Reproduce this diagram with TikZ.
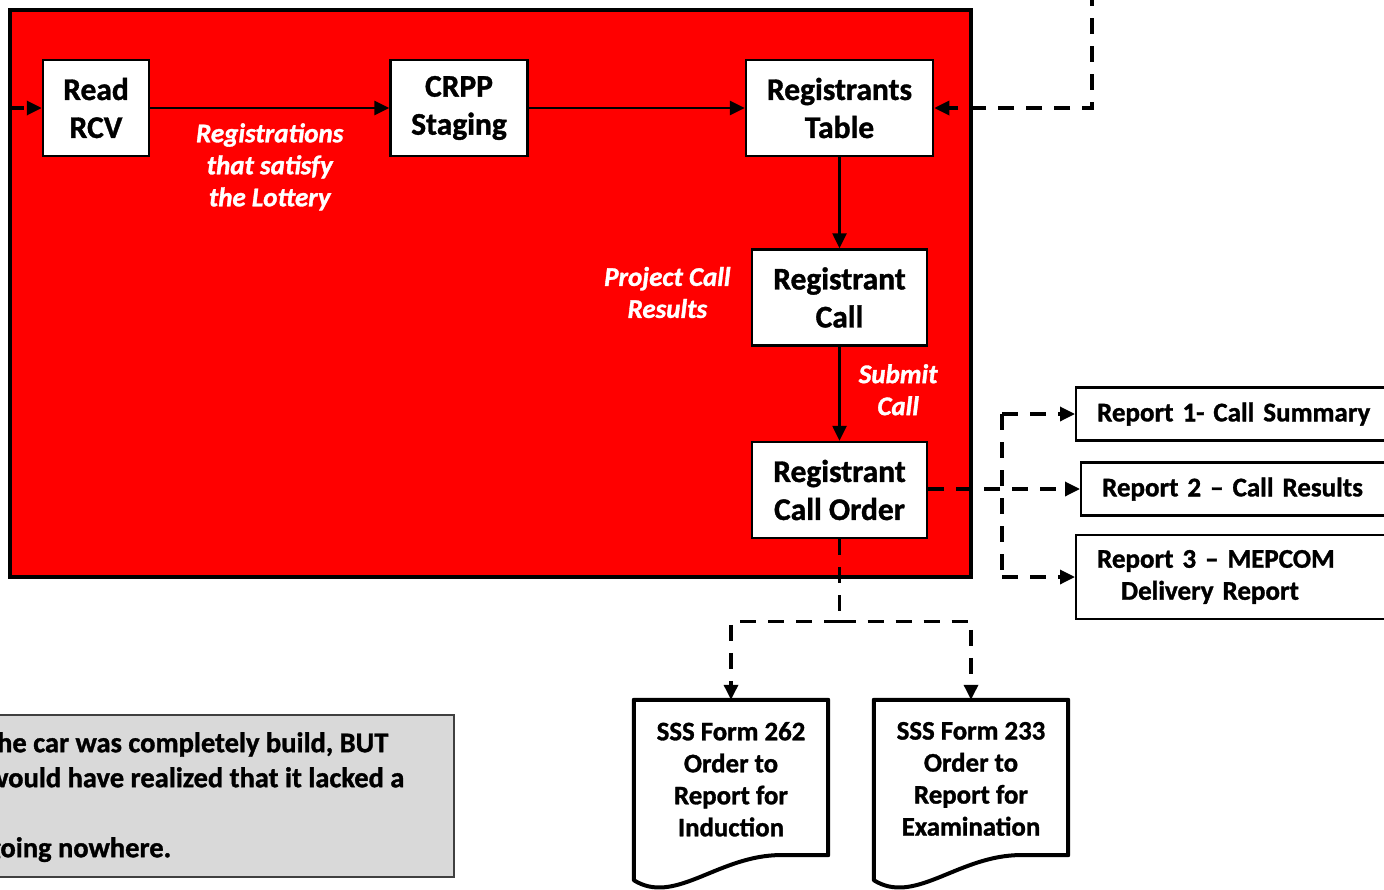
\documentclass[tikz,border=0pt]{standalone}
\usepackage{fontspec}
\setmainfont{Carlito}[BoldFeatures={FakeBold=1.2}, BoldItalicFeatures={FakeBold=1.2}]
\usetikzlibrary{positioning, arrows.meta, calc}

% wavy-bottom outline round a document node
\newcommand{\drawdoc}[1]{%
  \draw[line width=4pt, line join=round, fill=white]
    (#1.north west) -- (#1.north east) -- ($(#1.south east)+(0,-25)$) -- ++(-53,0)
    .. controls +(-60,3) and +(40,25) .. (#1.south west) -- cycle;}

\begin{document}
\begin{tikzpicture}[x=1pt, y=-1pt,
    proc/.style={draw, line width=2.5pt, fill=white, align=center, minimum height=96pt,
      inner sep=0pt, font=\fontsize{31.5}{38}\selectfont\bfseries},
    flow/.style={line width=2.6pt, -{Triangle[length=15pt,width=14pt]}},
    dashline/.style={line width=3.3pt, dash pattern=on 16pt off 12pt},
    dashflow/.style={dashline, -{Triangle[length=15pt,width=14pt]}},
    note/.style={text=white, align=center, inner sep=0pt,
      font=\fontsize{27}{32}\selectfont\bfseries\itshape},
    report/.style={draw, line width=2.2pt, fill=white, anchor=west, text width=290pt,
      inner xsep=21pt, inner ysep=10pt, minimum height=53pt, align=left,
      font=\fontsize{27}{32}\selectfont\bfseries},
    docbox/.style={minimum width=194pt, minimum height=180pt, inner sep=0pt},
    doctext/.style={align=center, inner sep=0pt, font=\fontsize{26.8}{32}\selectfont\bfseries}]

  \useasboundingbox (0,0) rectangle (1384,889);
  \clip (0,0) rectangle (1384,889);

  % lottery region
  \draw[line width=3.5pt, fill=red] (10,10) rectangle (971,577);

  \node(read_rcv)[proc, minimum width=106pt] at (96,108) {Read\\RCV};
  \node(crpp)[proc, minimum width=137pt, right=239pt of read_rcv] {CRPP\\Staging};
  \node(reg_table)[proc, minimum width=187pt, right=216pt of crpp] {Registrants\\Table};
  \node(reg_call)[proc, minimum width=175pt, below=91pt of reg_table] {Registrant\\Call};
  \node(call_order)[proc, minimum width=175pt, below=94pt of reg_call] {Registrant\\Call Order};
  \node(proj_label)[note, left=20pt of reg_call, yshift=5pt] {Project Call\\Results};

  \path[every edge/.append style={flow}]
    (read_rcv) edge node[note, below=14pt] {Registrations\\that satisfy\\the Lottery} (crpp)
    (crpp) edge (reg_table)
    (reg_table) edge (reg_call)
    (reg_call) edge node[note, right=18pt, yshift=4pt] {Submit\\Call} (call_order)
    ;

  % outside feeds
  \coordinate(feed_left) at (-20,108);
  \coordinate(feed_top) at (1092,-10);
  \draw[dashflow] (feed_left) -- (read_rcv.west);
  \draw[dashflow] (feed_top) |- (reg_table.east);

  % reports
  \node(report1)[report] at (1075,414) {Report 1- Call Summary};
  \node(report2)[report] at (1080,489) {Report 2 -- Call Results};
  \node(report3)[report, minimum height=84pt] at (1075,577) {Report 3 -- MEPCOM\\\hspace*{24pt}Delivery Report};
  \coordinate(split) at (1002,489);
  \draw[dashflow] (call_order.east |- split) -- (report2.west);
  \draw[dashline] (report1.west -| split) -- (report3.west -| split);
  \draw[dashflow] (report1.west -| split) -- (report1.west);
  \draw[dashflow] (report3.west -| split) -- (report3.west);

  % forms
  \node(form262)[docbox] at (731,790) {};
  \node(form233)[docbox] at (971,790) {};
  \drawdoc{form262}
  \drawdoc{form233}
  \node[doctext, below=22pt of form262.north] {SSS Form 262\\Order to\\Report for\\Induction};
  \node[doctext, below=22pt of form233.north] {SSS Form 233\\Order to\\Report for\\Examination};
  \coordinate(fork) at ($(call_order.south)+(0,82)$);
  \draw[dashline] (call_order.south) -- (fork);
  \draw[dashflow] (fork) -| (form262.north);
  \draw[dashflow] (fork) -| (form233.north);

  % comment box
  \draw[line width=2pt, draw=black!75, fill=black!15] (-20,715) rectangle (454,877);
  \node(remark)[anchor=north west, align=left, inner sep=0pt,
    font=\fontsize{28.5}{35}\selectfont\bfseries] at (-13,732)
    {the car was completely build, BUT\\would have realized that it lacked a\\\mbox{}\\going nowhere.};
\end{tikzpicture}
\end{document}
